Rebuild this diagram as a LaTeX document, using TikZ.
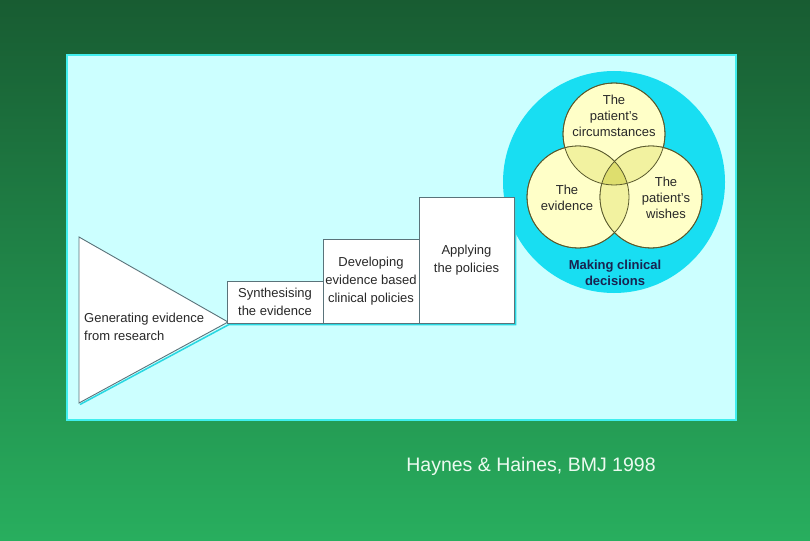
\documentclass[tikz,border=0pt]{standalone}
\usepackage{fontspec}
\setmainfont{Liberation Sans}
\usetikzlibrary{positioning,calc}
\definecolor{bgtop}{RGB}{24, 92, 50}
\definecolor{bgbot}{RGB}{40,174, 94}
\definecolor{panelfill}{RGB}{204,255,255}
\definecolor{panelline}{RGB}{64,238,238}
\definecolor{boxline}{RGB}{90,115,122}
\definecolor{boxshade}{RGB}{40,215,225}
\definecolor{ringfill}{RGB}{24,222,242}
\definecolor{vennA}{RGB}{255,255,200}
\definecolor{vennB}{RGB}{242,242,160}
\definecolor{vennC}{RGB}{222,222,110}
\definecolor{vennline}{RGB}{90, 90, 45}
\definecolor{txtclr}{RGB}{40, 40, 40}
\definecolor{decclr}{RGB}{25, 35, 80}
\definecolor{capclr}{RGB}{235,250,240}
\tikzset{
  % Steps of the staircase
  stepbox/.style   = {draw=boxline, fill=white, line width=0.9pt, anchor=south west,
                      minimum width=96pt, inner sep=0pt, outer sep=0pt, align=center,
                      text=txtclr, font=\fontsize{13}{18}\selectfont},
  stepline/.style  = {draw=boxline, line width=0.9pt},
  shadeline/.style = {draw=boxshade, line width=1.5pt},
  steplab/.style   = {align=left, text=txtclr, inner sep=0pt,
                      font=\fontsize{13}{18}\selectfont},
  % Venn circles
  venncirc/.style  = {circle, draw=vennline, line width=0.8pt, fill=vennA,
                      minimum size=102pt, inner sep=0pt},
  vennlab/.style   = {align=center, text=txtclr, inner sep=0pt,
                      font=\fontsize{13}{16}\selectfont},
  declab/.style    = {align=center, text=decclr, inner sep=0pt,
                      font=\bfseries\fontsize{13}{16}\selectfont},
  caplab/.style    = {text=capclr, inner sep=0pt, font=\fontsize{19.5}{22}\selectfont},
}
\begin{document}
\begin{tikzpicture}[x=1pt,y=-1pt]
  \useasboundingbox (0,0) rectangle (810,540);
  % Background and panel
  \shade[top color=bgtop, bottom color=bgbot] (0,0) rectangle (810,540);
  \draw[draw=panelline, line width=2pt, fill=panelfill] (67,55) rectangle (736,420);

  % Ring behind the Venn diagram
  \fill[ringfill] (614,182) circle (111);

  % Staircase
  \draw[shadeline] (80,404.5) -- (229,324.5) -- (515.5,324.5) -- (515.5,199);
  \draw[stepline, fill=white] (79,237) -- (228,322) -- (79,403) -- cycle;
  \node[steplab, anchor=west] (gen) at (84,327) {Generating evidence\\from research};
  \node[stepbox, minimum height=42pt] (synth) at (227,323) {Synthesising\\the evidence};
  \node[stepbox, minimum height=84pt] (devel) at (synth.south east)
    {Developing\\evidence based\\clinical policies};
  \node[stepbox, minimum height=126pt, minimum width=95pt] (apply) at (devel.south east)
    {Applying\\the policies};

  % Venn diagram
  \node[venncirc] (circT) at (614,134) {};
  \node[venncirc] (circL) at (578,197) {};
  \node[venncirc] (circR) at (651,197) {};
  \begin{scope}
    \clip (circT.center) circle (51);
    \fill[vennB] (circL.center) circle (51);
    \fill[vennB] (circR.center) circle (51);
  \end{scope}
  \begin{scope}
    \clip (circL.center) circle (51);
    \fill[vennB] (circR.center) circle (51);
  \end{scope}
  \begin{scope}
    \clip (circT.center) circle (51);
    \clip (circL.center) circle (51);
    \fill[vennC] (circR.center) circle (51);
  \end{scope}
  \foreach \c in {circT,circL,circR}
    \draw[vennline, line width=0.8pt] (\c.center) circle (51);
  \node[vennlab] (txtT) at (614,116) {The\\patient's\\circumstances};
  \node[vennlab] (txtL) at (567,198) {The\\evidence};
  \node[vennlab] (txtR) at (666,198) {The\\patient's\\wishes};
  \node[declab] (decide) at (615,273) {Making clinical\\decisions};

  % Source
  \node[caplab] (source) at (531,466) {Haynes \& Haines, BMJ 1998};
\end{tikzpicture}
\end{document}
